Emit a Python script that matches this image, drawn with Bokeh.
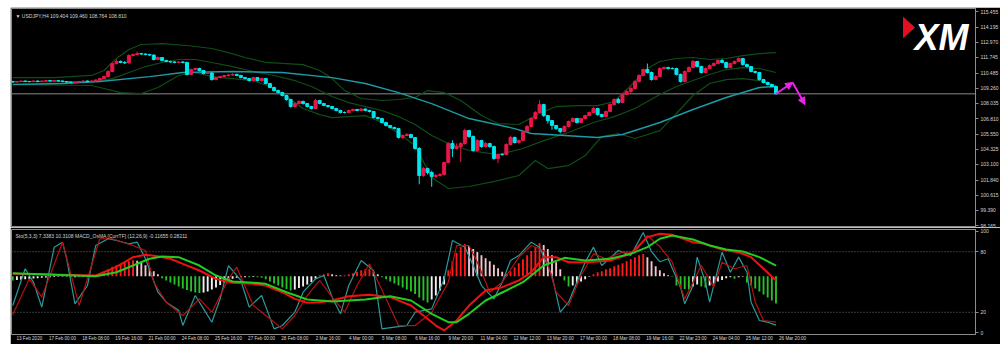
from bokeh.plotting import figure
from bokeh.models import (ColumnDataSource, FixedTicker, Range1d, Label, Arrow, NormalHead,
                          Span, Spacer, PrintfTickFormatter)
from bokeh.layouts import column, row
from bokeh.embed import file_html
from bokeh.resources import INLINE

# ---------------- data ----------------
symbol_header = "\u25BC USDJPY,H4  109.404 109.460 108.764 108.810"
sub_header = "Sto(5,3,3) 7.3383 10.3108  MACD_OsMA [CurrTF] (12,26,9) -0.11655 0.28211"

time_labels = ["13 Feb 2020", "17 Feb 00:00", "18 Feb 08:00", "19 Feb 16:00", "21 Feb 00:00",
               "24 Feb 08:00", "25 Feb 16:00", "27 Feb 00:00", "28 Feb 08:00", "2 Mar 16:00",
               "4 Mar 00:00", "5 Mar 08:00", "6 Mar 16:00", "9 Mar 20:00", "11 Mar 04:00",
               "12 Mar 12:00", "13 Mar 20:00", "17 Mar 00:00", "18 Mar 08:00", "19 Mar 16:00",
               "22 Mar 23:00", "24 Mar 04:00", "25 Mar 12:00", "26 Mar 20:00"]
time_label_bars = [0, 8, 16, 24, 32, 40, 48, 56, 64, 72, 80, 88, 96, 104, 112, 120, 128, 136,
                   144, 152, 160, 168, 176, 184]

price_ticks = [115.455, 114.195, 112.970, 111.745, 110.485, 109.260, 108.035, 106.810,
               105.550, 104.325, 103.100, 101.840, 100.615, 99.390, 98.165]
last_price = 108.81
sub_ticks = [0, 20, 80, 100]
sub_levels = [20, 80]

first_open = 109.80
closes = [
    109.76, 109.80, 109.84, 109.80, 109.80, 109.84, 109.80, 109.84, 109.88, 109.84,
    109.88, 109.84, 109.80, 109.76, 109.72, 109.76, 109.80, 109.84, 109.80, 109.84,
    109.92, 110.04, 110.20, 110.61, 111.25, 111.42, 111.34, 111.30, 111.90, 111.98,
    112.06, 112.02, 111.98, 111.94, 111.58, 111.74, 111.50, 111.42, 111.38, 111.34,
    111.38, 111.34, 110.37, 110.77, 110.85, 110.69, 110.45, 110.49, 109.96, 110.12,
    110.20, 110.29, 110.33, 110.37, 110.29, 110.12, 110.04, 109.88, 110.12, 109.88,
    110.04, 109.64, 109.32, 109.07, 108.91, 108.67, 108.35, 107.78, 108.02, 108.19,
    108.02, 107.78, 107.62, 108.27, 108.02, 107.86, 107.78, 107.62, 107.46, 107.30,
    107.30, 107.46, 107.54, 107.46, 107.58, 107.46, 107.38, 106.89, 106.81, 106.49,
    106.25, 106.09, 106.00, 105.28, 105.44, 105.52, 105.28, 104.39, 102.21, 102.77,
    102.45, 102.13, 102.21, 102.29, 103.26, 104.79, 104.39, 104.55, 104.79, 105.84,
    105.36, 104.23, 105.03, 104.55, 104.79, 104.55, 103.58, 103.90, 103.90, 104.71,
    105.28, 104.87, 105.03, 105.76, 106.17, 106.81, 107.30, 107.94, 107.05, 106.65,
    106.25, 106.00, 105.76, 106.17, 106.57, 106.81, 106.49, 106.81, 107.05, 107.30,
    107.62, 107.13, 106.97, 107.38, 107.94, 108.35, 108.10, 108.75, 108.99, 109.24,
    109.80, 110.29, 110.77, 110.53, 109.96, 110.20, 110.85, 110.93, 110.85, 110.85,
    110.37, 109.80, 110.61, 110.93, 111.42, 111.01, 110.53, 110.85, 111.09, 111.25,
    111.50, 111.34, 110.93, 111.25, 111.42, 111.66, 111.17, 111.01, 110.61, 110.53,
    109.96, 109.72, 109.56, 109.404, 108.81]
highs = [
    109.86, 109.85, 109.88, 109.88, 109.85, 109.89, 109.88, 109.88, 109.93, 109.92,
    109.92, 109.91, 109.88, 109.84, 109.80, 109.81, 109.85, 109.89, 109.88, 109.90,
    109.98, 110.10, 110.28, 110.70, 111.35, 111.58, 111.50, 111.45, 112.00, 112.08,
    112.22, 112.12, 112.08, 112.04, 111.98, 111.82, 111.78, 111.56, 111.48, 111.44,
    111.45, 111.44, 111.40, 110.84, 110.92, 110.92, 110.74, 110.56, 110.55, 110.18,
    110.26, 110.35, 110.42, 110.48, 110.44, 110.34, 110.18, 110.10, 110.18, 110.16,
    110.10, 110.10, 109.70, 109.38, 109.14, 108.98, 108.74, 108.40, 108.10, 108.30,
    108.26, 108.08, 107.84, 108.40, 108.32, 108.08, 107.92, 107.84, 107.68, 107.52,
    107.38, 107.52, 107.62, 107.60, 107.66, 107.64, 107.52, 107.42, 106.96, 106.86,
    106.55, 106.30, 106.14, 106.06, 105.52, 105.62, 105.58, 105.32, 104.50, 102.90,
    102.85, 102.60, 102.35, 102.40, 103.35, 104.90, 105.05, 104.80, 104.90, 106.00,
    105.90, 105.45, 105.15, 105.10, 104.90, 104.85, 104.62, 104.00, 104.02, 104.80,
    105.40, 105.35, 105.12, 105.85, 106.28, 106.92, 107.40, 108.30, 108.00, 107.10,
    106.70, 106.30, 106.05, 106.25, 106.65, 106.90, 106.86, 106.88, 107.12, 107.38,
    107.75, 107.68, 107.20, 107.45, 108.05, 108.45, 108.48, 108.85, 109.10, 109.40,
    109.90, 110.38, 110.85, 111.25, 110.60, 110.30, 110.95, 111.02, 111.00, 110.95,
    110.92, 110.45, 110.70, 111.02, 111.55, 111.48, 111.08, 110.94, 111.18, 111.35,
    111.60, 111.62, 111.40, 111.32, 111.50, 111.75, 111.70, 111.24, 111.06, 110.68,
    110.58, 110.02, 109.78, 109.62, 109.46]
lows = [
    109.72, 109.73, 109.77, 109.76, 109.75, 109.77, 109.76, 109.77, 109.81, 109.80,
    109.81, 109.80, 109.75, 109.71, 109.66, 109.68, 109.72, 109.77, 109.75, 109.77,
    109.80, 109.88, 110.00, 110.15, 110.55, 111.18, 111.28, 111.22, 111.25, 111.84,
    111.92, 111.96, 111.92, 111.88, 111.50, 111.52, 111.44, 111.35, 111.32, 111.28,
    111.28, 111.27, 110.30, 110.32, 110.70, 110.62, 110.38, 110.40, 109.88, 109.90,
    110.06, 110.14, 110.22, 110.25, 110.22, 110.06, 109.98, 109.80, 109.82, 109.82,
    109.80, 109.58, 109.26, 109.00, 108.85, 108.60, 108.25, 107.70, 107.70, 107.95,
    107.95, 107.70, 107.55, 107.58, 107.96, 107.80, 107.70, 107.55, 107.40, 107.22,
    107.22, 107.24, 107.40, 107.40, 107.40, 107.40, 107.30, 106.82, 106.74, 106.42,
    106.18, 106.02, 105.94, 105.20, 105.18, 105.38, 105.20, 104.30, 101.50, 102.10,
    102.30, 101.30, 102.00, 102.10, 102.20, 103.20, 103.70, 104.30, 103.30, 104.70,
    105.25, 104.15, 104.15, 104.45, 104.48, 104.45, 103.50, 103.20, 103.82, 103.85,
    104.65, 104.80, 104.78, 104.98, 105.70, 106.10, 106.75, 107.25, 106.95, 106.40,
    105.90, 105.90, 105.62, 105.70, 106.10, 106.50, 106.42, 106.44, 106.76, 107.00,
    107.25, 107.05, 106.90, 106.92, 107.32, 107.88, 108.02, 108.05, 108.70, 108.80,
    109.18, 109.72, 110.22, 110.45, 109.88, 109.90, 110.15, 110.78, 110.78, 110.78,
    110.30, 109.72, 109.74, 110.55, 110.88, 110.95, 110.45, 110.48, 110.80, 111.02,
    111.20, 111.28, 110.86, 110.88, 111.20, 111.38, 111.10, 110.94, 110.54, 110.46,
    109.88, 109.65, 109.50, 109.34, 108.764]

ma_bars = [0, 12, 21, 33, 41, 53, 65, 77, 85, 93, 101, 110, 121, 125, 133, 141, 147, 156,
           164, 172, 180, 184]
ma_vals = [109.56, 109.64, 109.80, 110.20, 110.53, 110.61, 110.53, 110.12, 109.64, 108.91,
           108.02, 106.81, 106.00, 105.60, 105.44, 105.28, 105.52, 106.49, 107.54, 108.51,
           109.32, 109.40]

bb_up_bars = [0, 10, 19, 22, 25, 28, 31, 36, 42, 48, 52, 56, 61, 66, 70, 74, 77, 80, 84, 89,
              93, 97, 100, 104, 108, 113, 117, 122, 127, 131, 136, 141, 145, 150, 153, 156,
              160, 164, 168, 172, 176, 180, 184]
bb_up_vals = [110.12, 110.12, 110.29, 110.69, 111.66, 112.39, 112.79, 112.87, 112.71, 112.47,
              112.14, 111.74, 111.34, 111.25, 111.17, 110.69, 110.04, 109.07, 108.43, 108.27,
              108.35, 108.51, 109.07, 108.91, 108.27, 107.05, 106.41, 106.33, 107.22, 107.78,
              107.86, 107.86, 108.19, 109.80, 110.85, 111.42, 111.66, 111.74, 111.58, 111.66,
              111.90, 112.06, 112.14]
bb_mid_bars = [0, 19, 24, 28, 32, 36, 40, 44, 48, 53, 58, 63, 68, 72, 77, 81, 85, 89, 93, 97,
               101, 105, 110, 117, 123, 128, 134, 140, 145, 150, 156, 160, 164, 168, 172, 176,
               180, 184]
bb_mid_vals = [109.80, 109.80, 110.04, 110.53, 111.01, 111.34, 111.58, 111.58, 111.34, 111.01,
               110.61, 110.29, 109.88, 109.40, 108.59, 108.10, 107.78, 107.46, 106.97, 106.33,
               105.44, 104.79, 104.23, 103.90, 104.39, 105.03, 105.68, 106.49, 106.97, 107.62,
               108.75, 109.40, 109.88, 110.37, 110.77, 110.93, 110.85, 110.53]
bb_low_bars = [0, 19, 22, 26, 31, 35, 40, 44, 48, 53, 58, 62, 66, 70, 74, 77, 81, 85, 89, 93,
               97, 101, 105, 110, 117, 122, 126, 129, 134, 138, 142, 146, 150, 156, 160, 164,
               168, 172, 176, 180, 184]
bb_low_vals = [109.56, 109.48, 109.24, 108.91, 108.83, 109.32, 110.29, 110.53, 110.20, 110.04,
               109.88, 109.40, 108.59, 107.62, 107.13, 106.89, 106.97, 107.05, 106.49, 105.60,
               104.63, 102.04, 101.16, 101.32, 101.80, 102.21, 103.42, 102.77, 103.01, 103.82,
               105.36, 105.60, 105.20, 105.84, 107.22, 108.67, 109.64, 109.96, 110.04, 109.88,
               109.48]

# forecast arrows (bar, price)
arrow_bars = [184, 188, 191]
arrow_prices = [108.81, 109.72, 107.94]

# OsMA histogram (offset from the histogram zero line, in window units)
osma_zero = 55.6
osma = [
    -4.0, -3.6, -3.3, -3.0, -2.6, -2.2, -1.9, -1.5, -1.1, -0.8,
    -0.6, -0.5, -0.5, -0.7, -0.9, -0.8, -0.5, -0.3, 0.3, 0.6,
    1.0, 2.0, 4.0, 7.0, 9.5, 11.0, 12.5, 13.5, 15.0, 16.0,
    15.5, 13.5, 11.0, 8.0, 5.0, 2.0, -2.0, -4.0, -6.0, -8.0,
    -10.0, -12.0, -13.5, -15.0, -16.0, -16.5, -16.0, -15.0, -13.0, -11.0,
    -8.5, -6.0, -4.0, -2.5, -1.5, -1.0, -0.8, -1.0, -0.7, -0.9,
    -1.5, -3.0, -5.0, -7.0, -9.0, -11.0, -12.5, -14.0, -13.0, -11.5,
    -10.0, -8.0, -5.5, -2.5, 1.0, 2.0, 3.0, 2.0, 1.0, 0.8,
    1.2, 2.0, 3.0, 4.5, 6.0, 7.0, 7.5, 4.5, 2.0, -1.0,
    -3.0, -5.0, -7.0, -9.0, -11.0, -13.0, -15.0, -17.5, -21.0, -24.0,
    -26.0, -23.0, -19.0, -14.0, -8.0, 6.0, 15.0, 23.0, 29.0, 32.0,
    30.0, 27.0, 24.0, 21.0, 18.0, 15.0, 11.5, 8.0, 4.5, 2.0,
    5.0, 9.0, 13.0, 17.0, 21.0, 25.0, 29.0, 33.0, 31.0, 27.0,
    21.0, 14.0, 7.0, -4.0, -10.0, -9.0, -7.0, -5.0, -3.0, -0.5,
    2.0, 4.0, 5.0, 7.0, 8.0, 10.0, 11.5, 13.0, 15.0, 17.0,
    19.0, 21.0, 22.0, 19.0, 15.0, 10.0, 6.0, 3.0, 1.0, -0.5,
    -9.0, -11.0, -12.5, -13.0, -10.0, -8.0, -10.0, -11.0, -9.0, -7.0,
    -5.0, -3.5, -2.0, -1.0, -2.5, -1.0, -0.5, -6.0, -9.0, -12.0,
    -15.0, -18.0, -21.0, -24.0, -27.0]

macd_bars = [0, 20, 24, 27, 29, 32, 35, 38, 41, 45, 49, 53, 58, 61, 65, 68, 71, 74, 77, 81,
             86, 91, 96, 99, 102, 104, 107, 110, 114, 118, 122, 125, 128, 131, 134, 139, 144,
             149, 153, 156, 159, 164, 167, 171, 175, 178, 181, 184]
macd_vals = [58.1, 56.4, 63.1, 69.6, 74.6, 76.9, 75.5, 73.0, 68.0, 61.4, 53.1, 49.2, 48.2,
             46.5, 39.9, 33.3, 29.4, 30.0, 31.7, 35.9, 37.3, 35.0, 26.7, 16.8, 6.9, 2.0, 11.9,
             26.7, 41.6, 44.9, 51.5, 59.7, 74.6, 74.6, 69.6, 69.6, 71.3, 77.9, 94.4, 97.7,
             96.7, 89.4, 87.8, 82.2, 79.5, 74.6, 63.1, 51.5]
sig_bars = [0, 20, 25, 29, 33, 36, 40, 45, 49, 53, 58, 61, 66, 71, 77, 85, 91, 96, 101, 105,
            107, 110, 114, 119, 123, 128, 133, 138, 144, 149, 153, 156, 159, 164, 168, 172,
            176, 180, 184]
sig_vals = [58.7, 55.7, 59.7, 66.3, 73.0, 75.2, 74.6, 66.3, 56.4, 50.5, 49.2, 48.2, 39.9,
            32.7, 30.7, 32.7, 35.9, 31.7, 18.5, 10.2, 10.2, 18.5, 31.7, 41.6, 49.8, 66.3, 73.9,
            71.3, 73.0, 77.9, 84.5, 92.8, 96.0, 92.1, 86.1, 82.2, 80.2, 74.6, 66.3]

sto_bars = [0, 3, 5, 7, 10, 12, 13, 15, 18, 20, 23, 25, 28, 30, 32, 35, 37, 40, 41, 44,
            46, 48, 50, 52, 55, 57, 60, 63, 65, 68, 70, 73, 75, 77, 79, 81, 84, 87, 89, 92,
            95, 97, 101, 104, 106, 109, 111, 113, 116, 118, 120, 122, 125, 127, 130, 132, 134,
            138, 140, 142, 146, 149, 152, 154, 156, 158, 161, 162, 164, 165, 167, 168, 171,
            173, 175, 177, 178, 180, 182, 184]
sto_vals = [26.7, 63.1, 49.8, 25.1, 84.5, 89.4, 73.0, 28.4, 46.5, 86.1,
            92.8, 91.1, 87.8, 89.4, 73.0, 39.9, 30.0, 22.0, 7.0, 36.6,
            23.4, 10.2, 33.3, 66.3, 51.5, 25.1, 36.6, 3.6, 6.9, 20.1,
            39.9, 53.1, 56.4, 35.0, 18.5, 46.5, 71.3, 61.4, 3.6, 5.3,
            6.9, 20.1, 23.4, 53.1, 91.1, 84.5, 66.3, 46.5, 33.3, 49.8,
            71.3, 76.2, 89.4, 84.5, 56.4, 20.1, 30.0, 69.6, 84.5, 66.3,
            81.2, 76.2, 99.0, 80.0, 70.0, 73.0, 44.9, 28.4, 46.5, 74.6,
            49.8, 30.0, 79.5, 59.7, 74.6, 59.7, 30.0, 11.9, 10.2, 7.3]
stosig_bars = [0, 4, 7, 12, 16, 21, 24, 29, 32, 34, 37, 41, 45, 48, 52, 54, 58, 61, 65, 68,
               71, 74, 77, 80, 83, 86, 90, 93, 97, 101, 105, 107, 110, 112, 115, 118, 122, 125,
               128, 131, 134, 137, 140, 143, 147, 150, 153, 156, 159, 162, 166, 169, 171, 174,
               177, 179, 181, 184]
stosig_vals = [17.5, 53.1, 35.0, 89.4, 26.7, 92.8, 92.8, 86.1, 81.2, 49.8,
               30.0, 16.8, 33.3, 20.1, 53.1, 64.7, 26.7, 16.8, 3.6, 16.8,
               36.6, 51.5, 35.0, 20.1, 46.5, 68.0, 33.3, 6.9, 6.9, 20.1,
               49.8, 86.1, 86.1, 69.6, 39.9, 49.8, 74.6, 86.1, 81.2, 39.9,
               26.7, 56.4, 77.9, 73.0, 79.5, 79.5, 96.0, 85.0, 69.6, 33.3,
               66.3, 44.9, 69.6, 63.1, 66.3, 30.0, 11.9, 10.3]

for a, b in [(closes, highs), (closes, lows), (closes, osma), (ma_bars, ma_vals),
             (bb_up_bars, bb_up_vals), (bb_mid_bars, bb_mid_vals), (bb_low_bars, bb_low_vals),
             (macd_bars, macd_vals), (sig_bars, sig_vals), (sto_bars, sto_vals),
             (stosig_bars, stosig_vals), (time_labels, time_label_bars)]:
    assert len(a) == len(b), (len(a), len(b))

# ---------------- styling ----------------
FONT = "Liberation Sans"
TXT = "#d4d4d4"
GRID = "#8c8c8c"
BULL = "#e8174a"
BEAR = "#00e6ee"
BB_COL = "#0f4d16"
MA_COL = "#1d9aa6"
MAG = "#ee22ee"

X0, X1 = -0.3, 232.1
Y0, Y1 = 98.09, 115.70
S0, S1 = -1.98, 101.98
FW = 964


def px_x(px):
    return X0 + (px - 11) / FW * (X1 - X0)


def px_y(py):
    return Y1 - (py - 8) / 218 * (Y1 - Y0)


bars = list(range(len(closes)))
opens = [first_open] + closes[:-1]
ccol = [BULL if c > o else BEAR for o, c in zip(opens, closes)]
candles = ColumnDataSource(dict(
    x=bars, o=opens, c=closes, h=highs, l=lows, col=ccol,
    top=[max(o, c) for o, c in zip(opens, closes)],
    bot=[min(o, c) for o, c in zip(opens, closes)]))

# ---------------- main window ----------------
main = figure(frame_width=FW, frame_height=218, x_range=Range1d(X0, X1), y_range=Range1d(Y0, Y1),
              output_backend="svg", toolbar_location=None, x_axis_location=None,
              y_axis_location="right", background_fill_color="black", border_fill_color="black",
              min_border_left=1, min_border_top=1, min_border_bottom=1, min_border_right=25)
main.grid.visible = False
main.outline_line_color = GRID
ax = main.yaxis[0]
ax.ticker = FixedTicker(ticks=price_ticks)
ax.formatter = PrintfTickFormatter(format="%.3f")
ax.major_label_text_font_size = "5px"
ax.major_label_text_font = FONT
ax.major_label_text_color = TXT
ax.axis_line_color = GRID
ax.major_tick_line_color = GRID
ax.major_tick_in = 0
ax.major_tick_out = 3
ax.minor_tick_line_color = None
ax.major_label_standoff = 2

main.add_layout(Span(location=last_price, dimension="width", line_color="#5c5c5c",
                     line_width=1.5, level="underlay"))

main.line(bb_up_bars, bb_up_vals, line_color=BB_COL, line_width=1.2)
main.line(bb_mid_bars, bb_mid_vals, line_color=BB_COL, line_width=1.2)
main.line(bb_low_bars, bb_low_vals, line_color=BB_COL, line_width=1.2)
main.line(ma_bars, ma_vals, line_color=MA_COL, line_width=1.4)

main.segment(x0="x", y0="l", x1="x", y1="h", line_color="col", line_width=1, source=candles)
main.vbar(x="x", top="top", bottom="bot", width=0.72, fill_color="col", line_color="col",
          source=candles)

for i in range(len(arrow_bars) - 1):
    main.add_layout(Arrow(end=NormalHead(size=7, fill_color=MAG, line_color=MAG),
                          x_start=arrow_bars[i], y_start=arrow_prices[i],
                          x_end=arrow_bars[i + 1], y_end=arrow_prices[i + 1],
                          line_color=MAG, line_width=2))

main.add_layout(Label(x=X0, y=px_y(15.5), x_offset=4, text=symbol_header,
                      text_font=FONT, text_font_size="5px", text_color=TXT,
                      text_baseline="alphabetic"))
main.add_layout(Label(x=X1, y=last_price, x_offset=3, text="108.810", text_font=FONT,
                      text_font_size="5px", text_color="black", text_baseline="middle",
                      background_fill_color="white", padding=1))

# XM logo
main.patch([px_x(903), px_x(914), px_x(903)], [px_y(17), px_y(27), px_y(37)],
           fill_color="#e01020", line_color="#e01020")
main.add_layout(Label(x=px_x(968), y=px_y(37), text="XM", text_font=FONT,
                      text_font_size="36px", text_font_style="bold italic",
                      text_color="white", text_align="right", text_baseline="alphabetic"))

# ---------------- sub window ----------------
sub = figure(frame_width=FW, frame_height=105, x_range=main.x_range, y_range=Range1d(S0, S1),
             output_backend="svg", toolbar_location=None, y_axis_location="right",
             x_axis_location="below", background_fill_color="black", border_fill_color="black",
             min_border_left=1, min_border_top=2, min_border_bottom=10, min_border_right=25)
sub.grid.visible = False
sub.outline_line_color = GRID
say = sub.yaxis[0]
say.ticker = FixedTicker(ticks=sub_ticks)
say.major_label_text_font_size = "5px"
say.major_label_text_font = FONT
say.major_label_text_color = TXT
say.axis_line_color = GRID
say.major_tick_line_color = GRID
say.major_tick_in = 0
say.major_tick_out = 3
say.minor_tick_line_color = None
say.major_label_standoff = 2

sax = sub.xaxis[0]
shift = 4
sax.ticker = FixedTicker(ticks=[b + shift for b in time_label_bars])
sax.major_label_overrides = {b + shift: t for b, t in zip(time_label_bars, time_labels)}
sax.major_label_text_font_size = "4.6px"
sax.major_label_text_font = FONT
sax.major_label_text_color = TXT
sax.axis_line_color = None
sax.major_tick_line_color = None
sax.minor_tick_line_color = None
sax.major_tick_out = 0
sax.major_tick_in = 0
sax.major_label_standoff = 1

for lv in sub_levels:
    sub.add_layout(Span(location=lv, dimension="width", line_color="#6e6e6e",
                        line_width=1, line_dash="1 2"))

hcol = []
prev = 0.0
for v in osma:
    if v >= 0:
        hcol.append("#ff1a1a" if v >= prev else "#f6c4cc")
    else:
        hcol.append("#27c227" if v < prev else "#f2f2f2")
    prev = v
hist = ColumnDataSource(dict(x=bars, top=[osma_zero + v for v in osma],
                             bot=[osma_zero] * len(osma), col=hcol))
sub.vbar(x="x", top="top", bottom="bot", width=0.45, fill_color="col", line_color=None,
         source=hist)

sub.line(sto_bars, sto_vals, line_color="#2a9a9a", line_width=1.2)
sub.line(stosig_bars, stosig_vals, line_color="#b81010", line_width=1.2)
sub.line(macd_bars, macd_vals, line_color="#f01010", line_width=2)
sub.line(sig_bars, sig_vals, line_color="#22cc22", line_width=2)

sub.add_layout(Label(x=X0, y=S1, x_offset=4, y_offset=-6, text=sub_header, text_font=FONT,
                     text_font_size="5px", text_color=TXT, text_baseline="alphabetic"))

layout = column(Spacer(width=1000, height=7),
                row(Spacer(width=10, height=340), column(main, sub)))

open("out.html", "w").write(file_html(layout, INLINE))
